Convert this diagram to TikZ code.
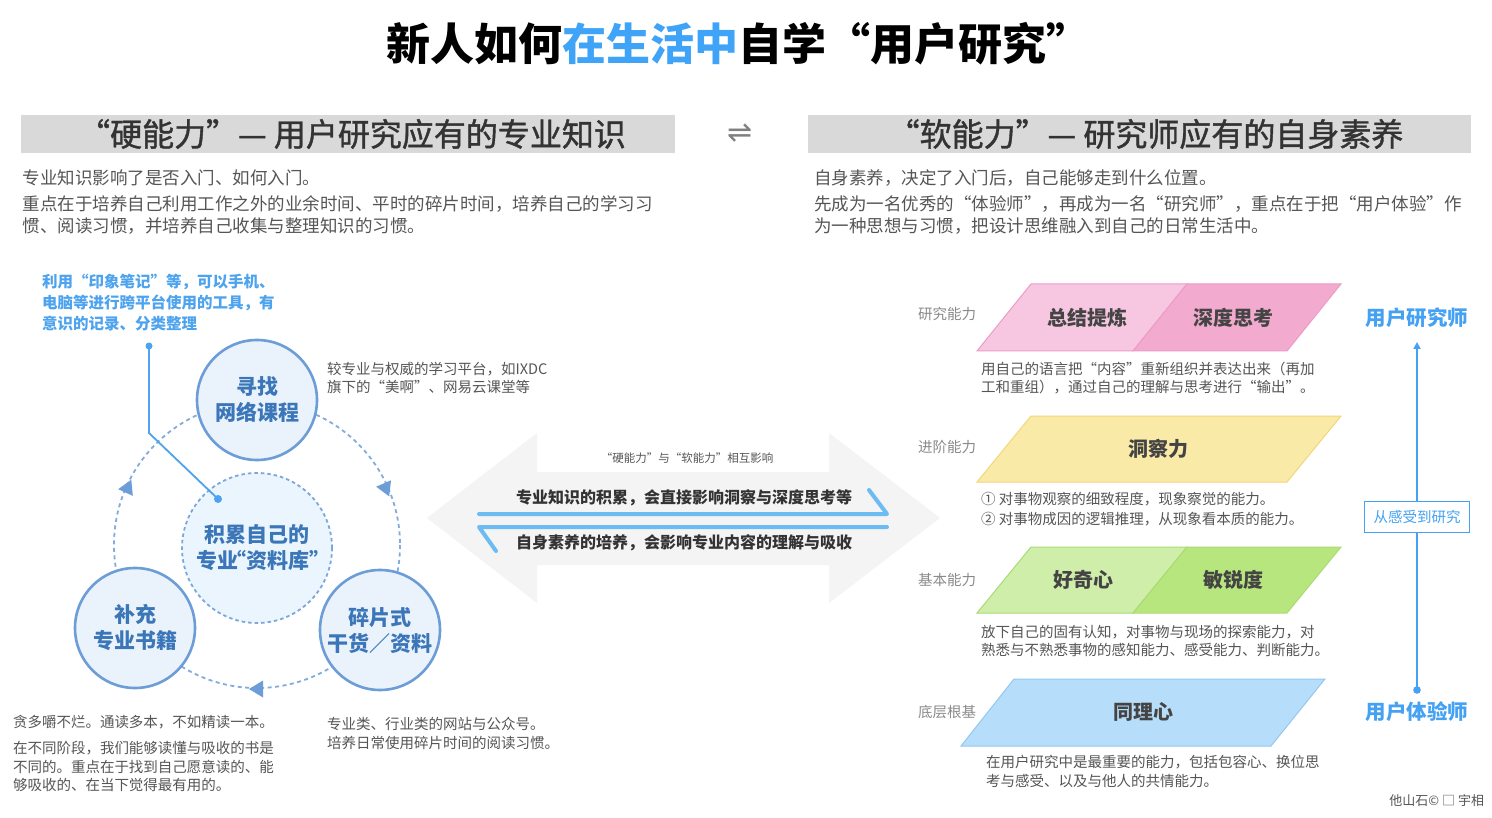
\documentclass[tikz,border=0pt]{standalone}
\usepackage{fontspec}
\setmainfont{Noto Sans CJK SC}
\newfontfamily\dejavu{DejaVu Sans}
\newfontfamily\hdrfont{Noto Sans CJK SC}[FakeBold=1.2]
\usetikzlibrary{arrows.meta}
\newcommand\fsz[2]{\fontsize{#1}{#2}\selectfont}
\definecolor{tblue}{HTML}{3FA3F7}
\definecolor{hdrgray}{HTML}{D9D9D9}
\definecolor{hdrtext}{HTML}{333333}
\definecolor{paragray}{HTML}{555555}
\definecolor{lblgray}{HTML}{8A8A8A}
\definecolor{cstroke}{HTML}{6D9DD6}
\definecolor{cfill}{HTML}{EAF2FC}
\definecolor{ctext}{HTML}{3B76B8}
\definecolor{czfill}{HTML}{EAF5FE}
\definecolor{noteblue}{HTML}{4DA3EE}
\definecolor{arrowgray}{HTML}{F4F4F4}
\definecolor{harpc}{HTML}{6CBBF3}
\definecolor{pinka}{HTML}{F7C7E1}
\definecolor{pinkb}{HTML}{F2AACF}
\definecolor{pinkl}{HTML}{EC9CC8}
\definecolor{yela}{HTML}{F9EBA7}
\definecolor{yell}{HTML}{F2D67A}
\definecolor{grna}{HTML}{CFEEAA}
\definecolor{grnb}{HTML}{B8E67E}
\definecolor{grnl}{HTML}{A8DC70}
\definecolor{blua}{HTML}{B6DDF9}
\definecolor{blul}{HTML}{92C8F3}
\definecolor{rblue}{HTML}{45A1F2}
\definecolor{partext}{HTML}{444444}
\begin{document}
\begin{tikzpicture}[x=1pt,y=-1pt,
  every node/.style={inner sep=0pt, outer sep=0pt},
  para/.style={anchor=west, text=paragray, font=\fsz{17.5}{21}},
  small/.style={anchor=west, text=paragray, font=\fsz{14.5}{18}},
  rowlbl/.style={anchor=west, text=lblgray, font=\fsz{14.5}{18}},
  hdr/.style={fill=hdrgray, minimum height=38pt, text=hdrtext, font=\hdrfont\fsz{32}{35}},
  circ/.style={circle, draw=cstroke, line width=2.6pt, fill=cfill, minimum size=120pt,
    align=center, text=ctext, font=\bfseries\fsz{21}{26}},
  note/.style={anchor=west, text=noteblue, font=\bfseries\fsz{15.5}{19}},
  midtxt/.style={text=hdrtext, font=\bfseries\fsz{16}{19}},
  partxt/.style={text=partext, font=\bfseries\fsz{20}{24}},
  harp/.style={draw=harpc, line width=4pt, line cap=round, line join=round},
  bluebig/.style={text=rblue, font=\bfseries\fsz{20.5}{24}},
  vline/.style={draw=rblue, line width=2pt}
]
\useasboundingbox (0,0) rectangle (1492,818);
\fill[white] (0,0) rectangle (1492,818);

% title
\node[font=\bfseries\fsz{44}{50}] (title) at (738,44) {新人如何{\color{tblue}在生活中}自学“用户研究”};

% headers
\node[hdr, minimum width=654pt] (hh) at (348,134) {\hspace*{8pt}“硬能力”— 用户研究应有的专业知识};
\node[hdr, minimum width=663pt] (sh) at (1139.5,134) {\hspace*{12pt}“软能力”— 研究师应有的自身素养};
\node[font=\dejavu\fsz{30}{32}, text=gray] (xch) at (740,133) {⇌};

% left paragraph
\node[para] (lp1) at (23,178) {专业知识影响了是否入门、如何入门。};
\node[para] (lp2) at (23,204) {重点在于培养自己利用工作之外的业余时间、平时的碎片时间，培养自己的学习习};
\node[para] (lp3) at (23,226) {惯、阅读习惯，并培养自己收集与整理知识的习惯。};
% right paragraph
\node[para] (rp1) at (814,178) {自身素养，决定了入门后，自己能够走到什么位置。};
\node[para] (rp2) at (814,204) {先成为一名优秀的“体验师”，再成为一名“研究师”，重点在于把“用户体验”作};
\node[para] (rp3) at (814,226) {为一种思想与习惯，把设计思维融入到自己的日常生活中。};

% blue note
\node[note] (n1) at (42,282) {利用“印象笔记”等，可以手机、};
\node[note] (n2) at (42,303) {电脑等进行跨平台使用的工具，有};
\node[note] (n3) at (42,324) {意识的记录、分类整理};

% big dashed cycle
\draw[cstroke!85, line width=1.8pt, dash pattern=on 4pt off 3.5pt] (257,545) circle[radius=143];
\fill[cstroke] (131.3,479.7) -- (132.8,495.8) -- (118.2,489.2) -- cycle;
\fill[cstroke] (389.2,496.4) -- (391,480.3) -- (376.2,486.7) -- cycle;
\fill[cstroke] (249,689) -- (263,680.5) -- (263,697.5) -- cycle;

% circles
\node[circ] (c1) at (257,400) {寻找\\网络课程};
\node[circ, fill=czfill, minimum size=150pt, line width=1.8pt, draw=cstroke!90, dash pattern=on 3.5pt off 3pt] (c0) at (257,548) {积累自己的\\专业\kern-0.62em“资料库”\kern-0.62em};
\node[circ] (c2) at (135,628) {补充\\专业书籍};
\node[circ] (c3) at (380,630) {碎片式\\干货／资料};

% link from note to center
\coordinate (la) at (149,346);
\coordinate (lb) at (218,499);
\draw[noteblue, line width=1.8pt] (la) -- (149,433) -- (lb);
\fill[noteblue] (la) circle[radius=3.5];
\fill[noteblue] (lb) circle[radius=4];

% side notes
\node[small] (t1a) at (327,369) {较专业与权威的学习平台，如IXDC};
\node[small] (t1b) at (327,387) {旗下的“美啊”、网易云课堂等};
\node[small] (t2a) at (13,722) {贪多嚼不烂。通读多本，不如精读一本。};
\node[small] (t2b) at (13,748) {在不同阶段，我们能够读懂与吸收的书是};
\node[small] (t2c) at (13,767) {不同的。重点在于找到自己愿意读的、能};
\node[small] (t2d) at (13,785) {够吸收的、在当下觉得最有用的。};
\node[small] (t3a) at (327,724) {专业类、行业类的网站与公众号。};
\node[small] (t3b) at (327,743) {培养日常使用碎片时间的阅读习惯。};

% middle double arrow
\fill[arrowgray] (427,518) -- (537,433) -- (537,472) -- (829,472) -- (829,433) -- (940,518)
  -- (829,603) -- (829,565) -- (537,565) -- (537,603) -- cycle;
\node[text=paragray, font=\fsz{11.5}{14}] (mt) at (687,458) {“硬能力”与“软能力”相互影响};
\node[midtxt] (m1) at (684,498) {专业知识的积累，会直接影响洞察与深度思考等};
\node[midtxt] (m2) at (684,543) {自身素养的培养，会影响专业内容的理解与吸收};
\draw[harp] (479,514) -- (887,514) -- (869,490);
\draw[harp] (887,527) -- (479,527) -- (496,551);

% right rows
\node[rowlbl] (l1) at (918,314) {研究能力};
\node[rowlbl] (l2) at (918,447) {进阶能力};
\node[rowlbl] (l3) at (918,580) {基本能力};
\node[rowlbl] (l4) at (918,712) {底层根基};

\filldraw[fill=pinka, draw=pinkl, line width=1pt] (1031,284) -- (1187,284) -- (1133,351) -- (977,351) -- cycle;
\filldraw[fill=pinkb, draw=pinkl, line width=1pt] (1187,284) -- (1341,284) -- (1287,351) -- (1133,351) -- cycle;
\node[partxt] (p1) at (1087,318) {总结提炼};
\node[partxt] (p2) at (1233,318) {深度思考};
\node[small] (d1a) at (981,369) {用自己的语言把“内容”重新组织并表达出来（再加};
\node[small] (d1b) at (981,387) {工和重组），通过自己的理解与思考进行“输出”。};

\filldraw[fill=yela, draw=yell, line width=1pt] (1031,416) -- (1341,416) -- (1287,482) -- (977,482) -- cycle;
\node[partxt] (p3) at (1158,449) {洞察力};
\node[small] (d2a) at (981,499) {① 对事物观察的细致程度，现象察觉的能力。};
\node[small] (d2b) at (981,519) {② 对事物成因的逻辑推理，从现象看本质的能力。};

\filldraw[fill=grna, draw=grnl, line width=1pt] (1031,547) -- (1187,547) -- (1133,613) -- (977,613) -- cycle;
\filldraw[fill=grnb, draw=grnl, line width=1pt] (1187,547) -- (1341,547) -- (1287,613) -- (1133,613) -- cycle;
\node[partxt] (p4) at (1083,580) {好奇心};
\node[partxt] (p5) at (1233,580) {敏锐度};
\node[small] (d3a) at (981,632) {放下自己的固有认知，对事物与现场的探索能力，对};
\node[small] (d3b) at (981,650) {熟悉与不熟悉事物的感知能力、感受能力、判断能力。};

\filldraw[fill=blua, draw=blul, line width=1pt] (1014,679) -- (1325,679) -- (1271,746) -- (961,746) -- cycle;
\node[partxt] (p6) at (1143,712) {同理心};
\node[small] (d4a) at (986,762) {在用户研究中是最重要的能力，包括包容心、换位思};
\node[small] (d4b) at (986,781) {考与感受、以及与他人的共情能力。};

% right column
\node[bluebig] (ur) at (1417,318) {用户研究师};
\node[bluebig] (ux) at (1417,712) {用户体验师};
\coordinate (dotb) at (1417,690);
\coordinate (tipt) at (1417,342);
\draw[vline, -{Triangle[length=7pt,width=7pt]}] (dotb) -- (tipt);
\fill[rblue] (dotb) circle[radius=3.8];
\node[draw=rblue, line width=1.6pt, fill=white, minimum width=105pt, minimum height=31pt,
  text=rblue, font=\fsz{14.5}{17}] (mb) at (1417,517) {从感受到研究};

% watermark
\node[anchor=east, text=paragray, font=\fsz{13}{15}] (wm) at (1484,801) {他山石© □ 宇相};
\end{tikzpicture}
\end{document}
